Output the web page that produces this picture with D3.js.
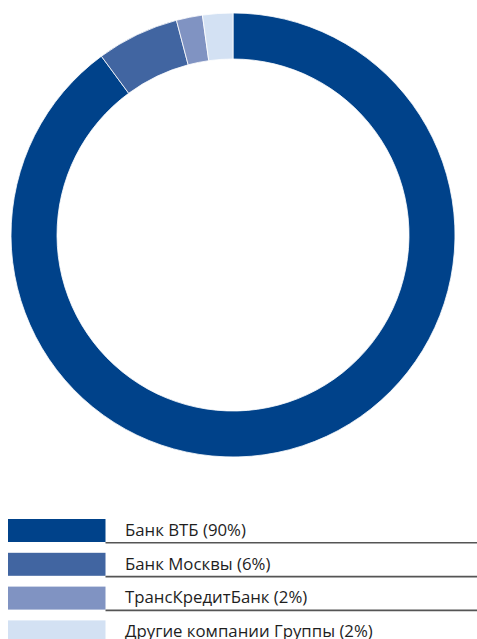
<!DOCTYPE html>
<html>
<head>
<meta charset="utf-8">
<script src="https://cdn.jsdelivr.net/npm/d3@7"></script>
<style>
  body { margin: 0; background: #fff; }
  svg { display: block; font-family: "Open Sans", sans-serif; }
</style>
</head>
<body>
<svg id="chart"></svg>
<script>
const width = 477;
const height = 639;

const categories = ["Банк ВТБ", "Банк Москвы", "ТрансКредитБанк", "Другие компании Группы"];
const shares = [89.9, 6.0, 1.9, 2.2];
const labels = ["90%", "6%", "2%", "2%"];
const colors = ["#00428a", "#4165a1", "#8093c2", "#d3e1f3"];

const center = { x: 233, y: 235 };
const outerR = 222;
const innerR = 176;

const svg = d3.select("#chart")
  .attr("width", width)
  .attr("height", height);

const data = categories.map((c, i) => ({ name: c, value: shares[i], label: labels[i] }));

const pie = d3.pie()
  .value(d => d.value)
  .sort(null)
  .startAngle(0)
  .endAngle(2 * Math.PI);

const arc = d3.arc()
  .innerRadius(innerR)
  .outerRadius(outerR);

const color = d3.scaleOrdinal()
  .domain(categories)
  .range(colors);

svg.append("g")
  .attr("transform", `translate(${center.x},${center.y})`)
  .selectAll("path")
  .data(pie(data))
  .join("path")
  .attr("d", arc)
  .attr("fill", d => color(d.data.name))
  .attr("stroke", "#fff")
  .attr("stroke-width", 0.8);

// legend
const legendTop = 519;
const rowStep = 33.8;
const y = d3.scaleLinear()
  .domain([0, 1])
  .range([legendTop, legendTop + rowStep]);

const rows = svg.append("g")
  .selectAll("g")
  .data(data)
  .join("g")
  .attr("transform", (d, i) => `translate(0,${y(i)})`);

rows.append("rect")
  .attr("x", 8)
  .attr("width", 97.5)
  .attr("height", 23)
  .attr("fill", d => color(d.name));

rows.append("line")
  .attr("x1", 105.5)
  .attr("x2", 477)
  .attr("y1", 23.8)
  .attr("y2", 23.8)
  .attr("stroke", "#555")
  .attr("stroke-width", 1.6);

rows.append("text")
  .attr("x", 125)
  .attr("y", 16.8)
  .attr("font-size", "16.8px")
  .attr("fill", "#1e1e1e")
  .text(d => `${d.name} (${d.label})`);
</script>
</body>
</html>
